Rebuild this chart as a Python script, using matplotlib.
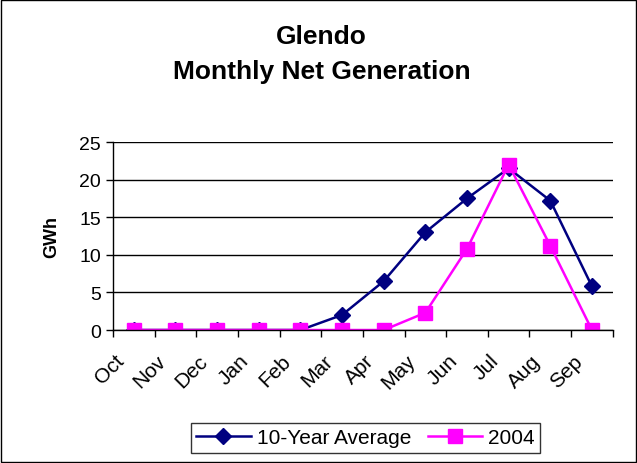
import numpy as np
import matplotlib.pyplot as plt
import matplotlib.transforms as mtransforms
from matplotlib.patches import Rectangle

months = ['Oct', 'Nov', 'Dec', 'Jan', 'Feb', 'Mar', 'Apr', 'May', 'Jun', 'Jul', 'Aug', 'Sep']
avg_10yr = [0, 0, 0, 0, 0, 2.0, 6.5, 13.0, 17.5, 21.5, 17.2, 5.8]
gen_2004 = [0, 0, 0, 0, 0, 0, 0, 2.3, 10.8, 22.0, 11.2, 0]
yticks = [0, 5, 10, 15, 20, 25]

plt.rcParams['font.family'] = ['Liberation Sans', 'DejaVu Sans']

fig = plt.figure(figsize=(6.37, 4.64), dpi=100)
fig.patches.append(Rectangle((0.002, 0.002), 0.996, 0.996, transform=fig.transFigure,
                             fill=False, edgecolor='black', linewidth=1))
ax = fig.add_axes([0.1774, 0.2866, 0.7846, 0.4052])

x = np.arange(len(months))
ax.plot(x, avg_10yr, color='#000080', marker='D', markersize=8, linewidth=1.8,
        label='10-Year Average')
ax.plot(x, gen_2004, color='#FF00FF', marker='s', markersize=10, linewidth=1.8,
        label='2004')

ax.set_xlim(-0.5, len(months) - 0.5)
ax.set_ylim(0, 25)
ax.set_yticks(yticks)
ax.set_xticks(x)
ax.set_xticklabels(months, rotation=45, ha='right', rotation_mode='anchor', fontsize=15)
ax.tick_params(axis='x', length=0, pad=15)
shift = mtransforms.ScaledTranslation(-14 / 72, 0, fig.dpi_scale_trans)
for lbl in ax.get_xticklabels():
    lbl.set_transform(lbl.get_transform() + shift)
ax.set_xticks(np.arange(-0.5, len(months)), minor=True)
ax.tick_params(axis='x', which='minor', length=5, direction='out', width=1)
ax.tick_params(axis='y', labelsize=14, length=5, direction='out', width=1)
ax.yaxis.grid(True, color='black', linewidth=1)
ax.set_axisbelow(True)
for s in ['top', 'right']:
    ax.spines[s].set_visible(False)
ax.spines['left'].set_linewidth(1)
ax.spines['bottom'].set_linewidth(1)
ax.set_ylabel('GWh', fontsize=13, fontweight='bold', labelpad=14)

fig.text(0.505, 0.92, 'Glendo', ha='center', va='center', fontsize=19, fontweight='bold')
fig.text(0.505, 0.845, 'Monthly Net Generation', ha='center', va='center', fontsize=19,
         fontweight='bold')

leg = fig.legend(loc='center', bbox_to_anchor=(0.574, 0.054), ncol=2, fontsize=15,
                 frameon=True, fancybox=False, edgecolor='black', handlelength=2.6,
                 columnspacing=0.8, handletextpad=0.3, borderpad=0.25)
leg.get_frame().set_linewidth(1)

fig.savefig('out.png', dpi=100)
